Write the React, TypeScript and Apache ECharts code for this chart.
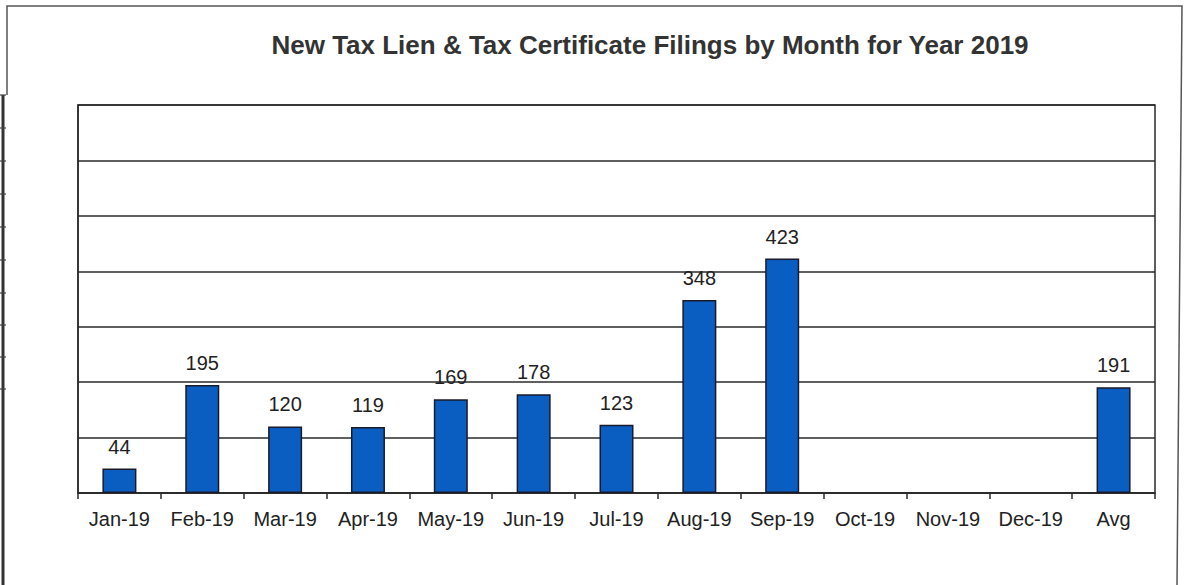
import React, { useEffect, useRef } from "react";
import * as echarts from "echarts";

const categories = ["Jan-19", "Feb-19", "Mar-19", "Apr-19", "May-19", "Jun-19", "Jul-19", "Aug-19", "Sep-19", "Oct-19", "Nov-19", "Dec-19", "Avg"];
const filings: (number | null)[] = [44, 195, 120, 119, 169, 178, 123, 348, 423, null, null, null, 191];
const yMin = 0;
const yMax = 700;
const yStep = 100;
const titleText = "New Tax Lien & Tax Certificate Filings by Month for Year 2019";

export default function App() {
  const ref = useRef<HTMLDivElement>(null);
  useEffect(() => {
    document.body.style.margin = "0";
    if (!ref.current) return;
    const chart = echarts.init(ref.current, null, { renderer: "svg" });
    const leftTicks = [95, 128, 161, 194, 227, 260, 293, 325, 357, 389];
    chart.setOption({
      animation: false,
      backgroundColor: "#ffffff",
      title: {
        text: titleText,
        left: 645,
        textAlign: "center",
        top: 27,
        textStyle: { fontFamily: "Liberation Sans, Arial, sans-serif", fontSize: 26, fontWeight: "bold", color: "#333" },
      },
      grid: { left: 78, right: 31, top: 105, bottom: 92, show: true, borderColor: "#2a2a2a", borderWidth: 1.5, backgroundColor: "transparent" },
      xAxis: {
        type: "category",
        data: categories,
        boundaryGap: true,
        axisLine: { lineStyle: { color: "#2a2a2a", width: 1.5 } },
        axisTick: { show: true, length: 6, lineStyle: { color: "#2a2a2a", width: 1.5 } },
        axisLabel: { interval: 0, margin: 16, color: "#222", fontSize: 20, fontFamily: "Liberation Sans, Arial, sans-serif" },
      },
      yAxis: {
        type: "value",
        min: yMin,
        max: yMax,
        interval: yStep,
        axisLabel: { show: false },
        axisTick: { show: false },
        axisLine: { show: true, lineStyle: { color: "#2a2a2a", width: 1.5 } },
        splitLine: { lineStyle: { color: "#2a2a2a", width: 1.5 } },
      },
      series: [
        {
          type: "bar",
          data: filings,
          barWidth: 34,
          itemStyle: { color: "#0a5ec2", borderColor: "#1a1a2a", borderWidth: 1.5 },
          label: {
            show: true,
            position: "top",
            distance: 12,
            color: "#222",
            fontSize: 20,
            fontFamily: "Liberation Sans, Arial, sans-serif",
          },
        },
      ],
      graphic: [
        { type: "polyline", shape: { points: [[7, 95], [7, 6], [1182, 6], [1177, 585]] }, style: { stroke: "#555", lineWidth: 1.5, fill: null }, silent: true },
        { type: "line", shape: { x1: 3, y1: 95, x2: 3, y2: 585 }, style: { stroke: "#333", lineWidth: 3 }, silent: true },
        ...leftTicks.map((y) => ({ type: "line", shape: { x1: 0, y1: y, x2: 6, y2: y }, style: { stroke: "#444", lineWidth: 1.2 }, silent: true })),
      ],
    });
    return () => chart.dispose();
  }, []);
  return <div ref={ref} style={{ width: 1186, height: 585 }} />;
}
